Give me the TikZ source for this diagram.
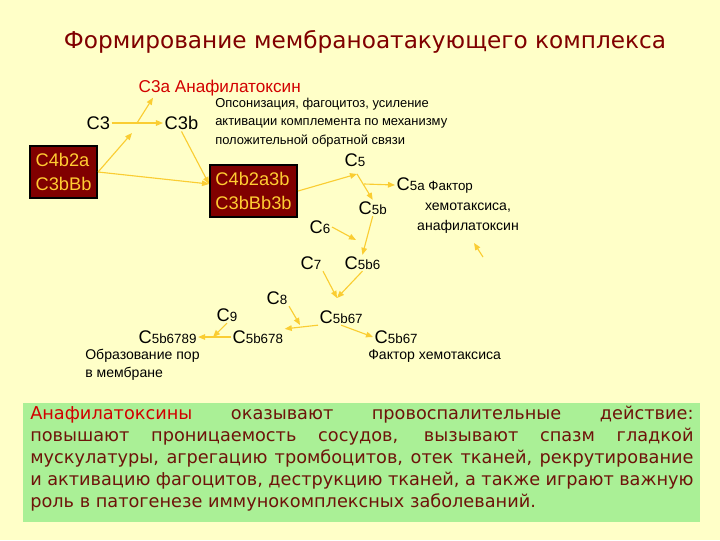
\documentclass[tikz,border=0pt]{standalone}
\usepackage{fontspec}
\setmainfont{Liberation Sans}
\newfontfamily\titlefont{DejaVu Sans}
\usetikzlibrary{arrows.meta,positioning,calc}
\definecolor{bgyellow}{RGB}{255,255,200}
\definecolor{darkred}{RGB}{128,0,0}
\definecolor{textbrown}{RGB}{110,20,10}
\definecolor{labred}{RGB}{210,0,0}
\definecolor{boxtext}{RGB}{255,204,51}
\definecolor{arrowyellow}{RGB}{250,205,50}
\definecolor{notegreen}{RGB}{170,240,150}
\newcommand{\Cx}[1]{C{\fontsize{9.5}{11}\selectfont#1}}
\tikzset{
  lab/.style={anchor=west,inner sep=1pt,font=\fontsize{13}{15}\selectfont},
  note/.style={inner sep=0pt,align=left,font=\fontsize{9.2}{13}\selectfont},
  complexbox/.style={draw=black,line width=1.5pt,fill=darkred,text=boxtext,
    align=left,inner sep=2pt,minimum height=1.3cm,font=\fontsize{13}{16.5}\selectfont},
  react/.style={draw=arrowyellow,line width=0.8pt,-{Triangle[length=5pt,width=4pt]}}
}

\begin{document}
\begin{tikzpicture}[x=0.025cm,y=-0.025cm]
  \fill[bgyellow] (0,0) rectangle (720,540);
  \useasboundingbox (0,0) rectangle (720,540);
  \node[text=darkred,font=\titlefont\fontsize{16.5}{20}\selectfont] (title) at (365,42)
    {Формирование мембраноатакующего комплекса};

  % C3 step
  \node[lab,text=labred,font=\fontsize{12.2}{15}\selectfont] (c3a) at (137,88) {C3a Анафилатоксин};
  \node[lab] (c3) at (85,123) {C3};
  \node[lab] (c3b) at (163,123) {C3b};
  \node[note,anchor=north west] (opson) at (215,98)
    {Опсонизация, фагоцитоз, усиление\\активации комплемента по механизму\\положительной обратной связи};
  \node[complexbox,minimum width=1.675cm] (box1) at (63.5,172) {C4b2a\\C3bBb};
  \node[complexbox,minimum width=2.175cm] (box2) at (253.5,191) {C4b2a3b\\C3bBb3b};

  % C5..C9
  \foreach \name/\x/\y/\txt in {c5/343/160/5,c5b/357/208/5b,c6/308/227/6,c7/299/263/7,
      c5b6/343/263/5b6,c8/265/298/8,c5b67/318/317/5b67,c9/215/315/9,
      c5b6789/137/337/5b6789,c5b678/231/337/5b678,c5b67r/373/337/5b67}
    {\node[lab] (\name) at (\x,\y) {\Cx{\txt}};}
  \node[lab] (c5a) at (395,185) {\Cx{5a Фактор}};
  \node[note,align=center,font=\fontsize{10}{14}\selectfont] (chemo) at (468,218)
    {хемотаксиса,\\анафилатоксин};
  \node[note,anchor=north west,font=\fontsize{10}{13}\selectfont] (factor) at (368,349)
    {Фактор хемотаксиса};
  \node[note,anchor=north west,font=\fontsize{10}{13}\selectfont] (pore) at (85,349)
    {Образование пор\\в мембране};

  % junctions
  \coordinate (j1) at (137,123);
  \coordinate (j2) at (132,133);
  \coordinate (j3) at (209,184);
  \coordinate (j4) at (357,174);
  \coordinate (j5) at (364,184);
  \coordinate (j6) at (356,240);
  \coordinate (j7) at (337,298);
  \coordinate (j8) at (300,325);
  \coordinate (j9) at (213,337);
  \coordinate (s1) at (483,257);
  \coordinate (s2) at (474,243);

  \draw[react] (c3) -- (c3b);
  \draw[react] (j1) -- ($(c3a.south west)+(16,0)$);
  \draw[react] (box1.east) -- (j2);
  \draw[react] (box1.east) -- (j3);
  \draw[react] (c3b.south) -- (j3);
  \draw[react] (box2.east) -- (j4);
  \draw[react] (j4) -- (c5b.north);
  \draw[react] (j5) -- (c5a.west);
  \draw[react] (c5b.south) -- (c5b6.north);
  \draw[react] (c6.east) -- (j6);
  \draw[react] (c7.south east) -- (j7);
  \draw[react] (c5b6.south) -- (j7);
  \draw[react] (c8.south east) -- (j8);
  \draw[react] (c5b67.south west) -- (c5b678.north east);
  \draw[react] (c5b67.south) -- (c5b67r.west);
  \draw[react] (c9.south) -- (j9);
  \draw[react] (c5b678.west) -- (c5b6789.east);
  \draw[react] (s1) -- (s2);

  % note
  \fill[notegreen] (23,403) rectangle (700,522);
  \node[anchor=north west,inner sep=0pt,text width=16.575cm,align=justify,text=textbrown,
    font=\titlefont\fontsize{12.6}{15.6}\selectfont] (effect) at (30,406)
    {\textcolor{labred}{Анафилатоксины} оказывают провоспалительные действие:\linebreak
     повышают проницаемость сосудов, вызывают спазм гладкой\linebreak
     мускулатуры, агрегацию тромбоцитов, отек тканей, рекрутирование\linebreak
     и активацию фагоцитов, деструкцию тканей, а также играют важную\linebreak
     роль в патогенезе иммунокомплексных заболеваний.};
\end{tikzpicture}
\end{document}
